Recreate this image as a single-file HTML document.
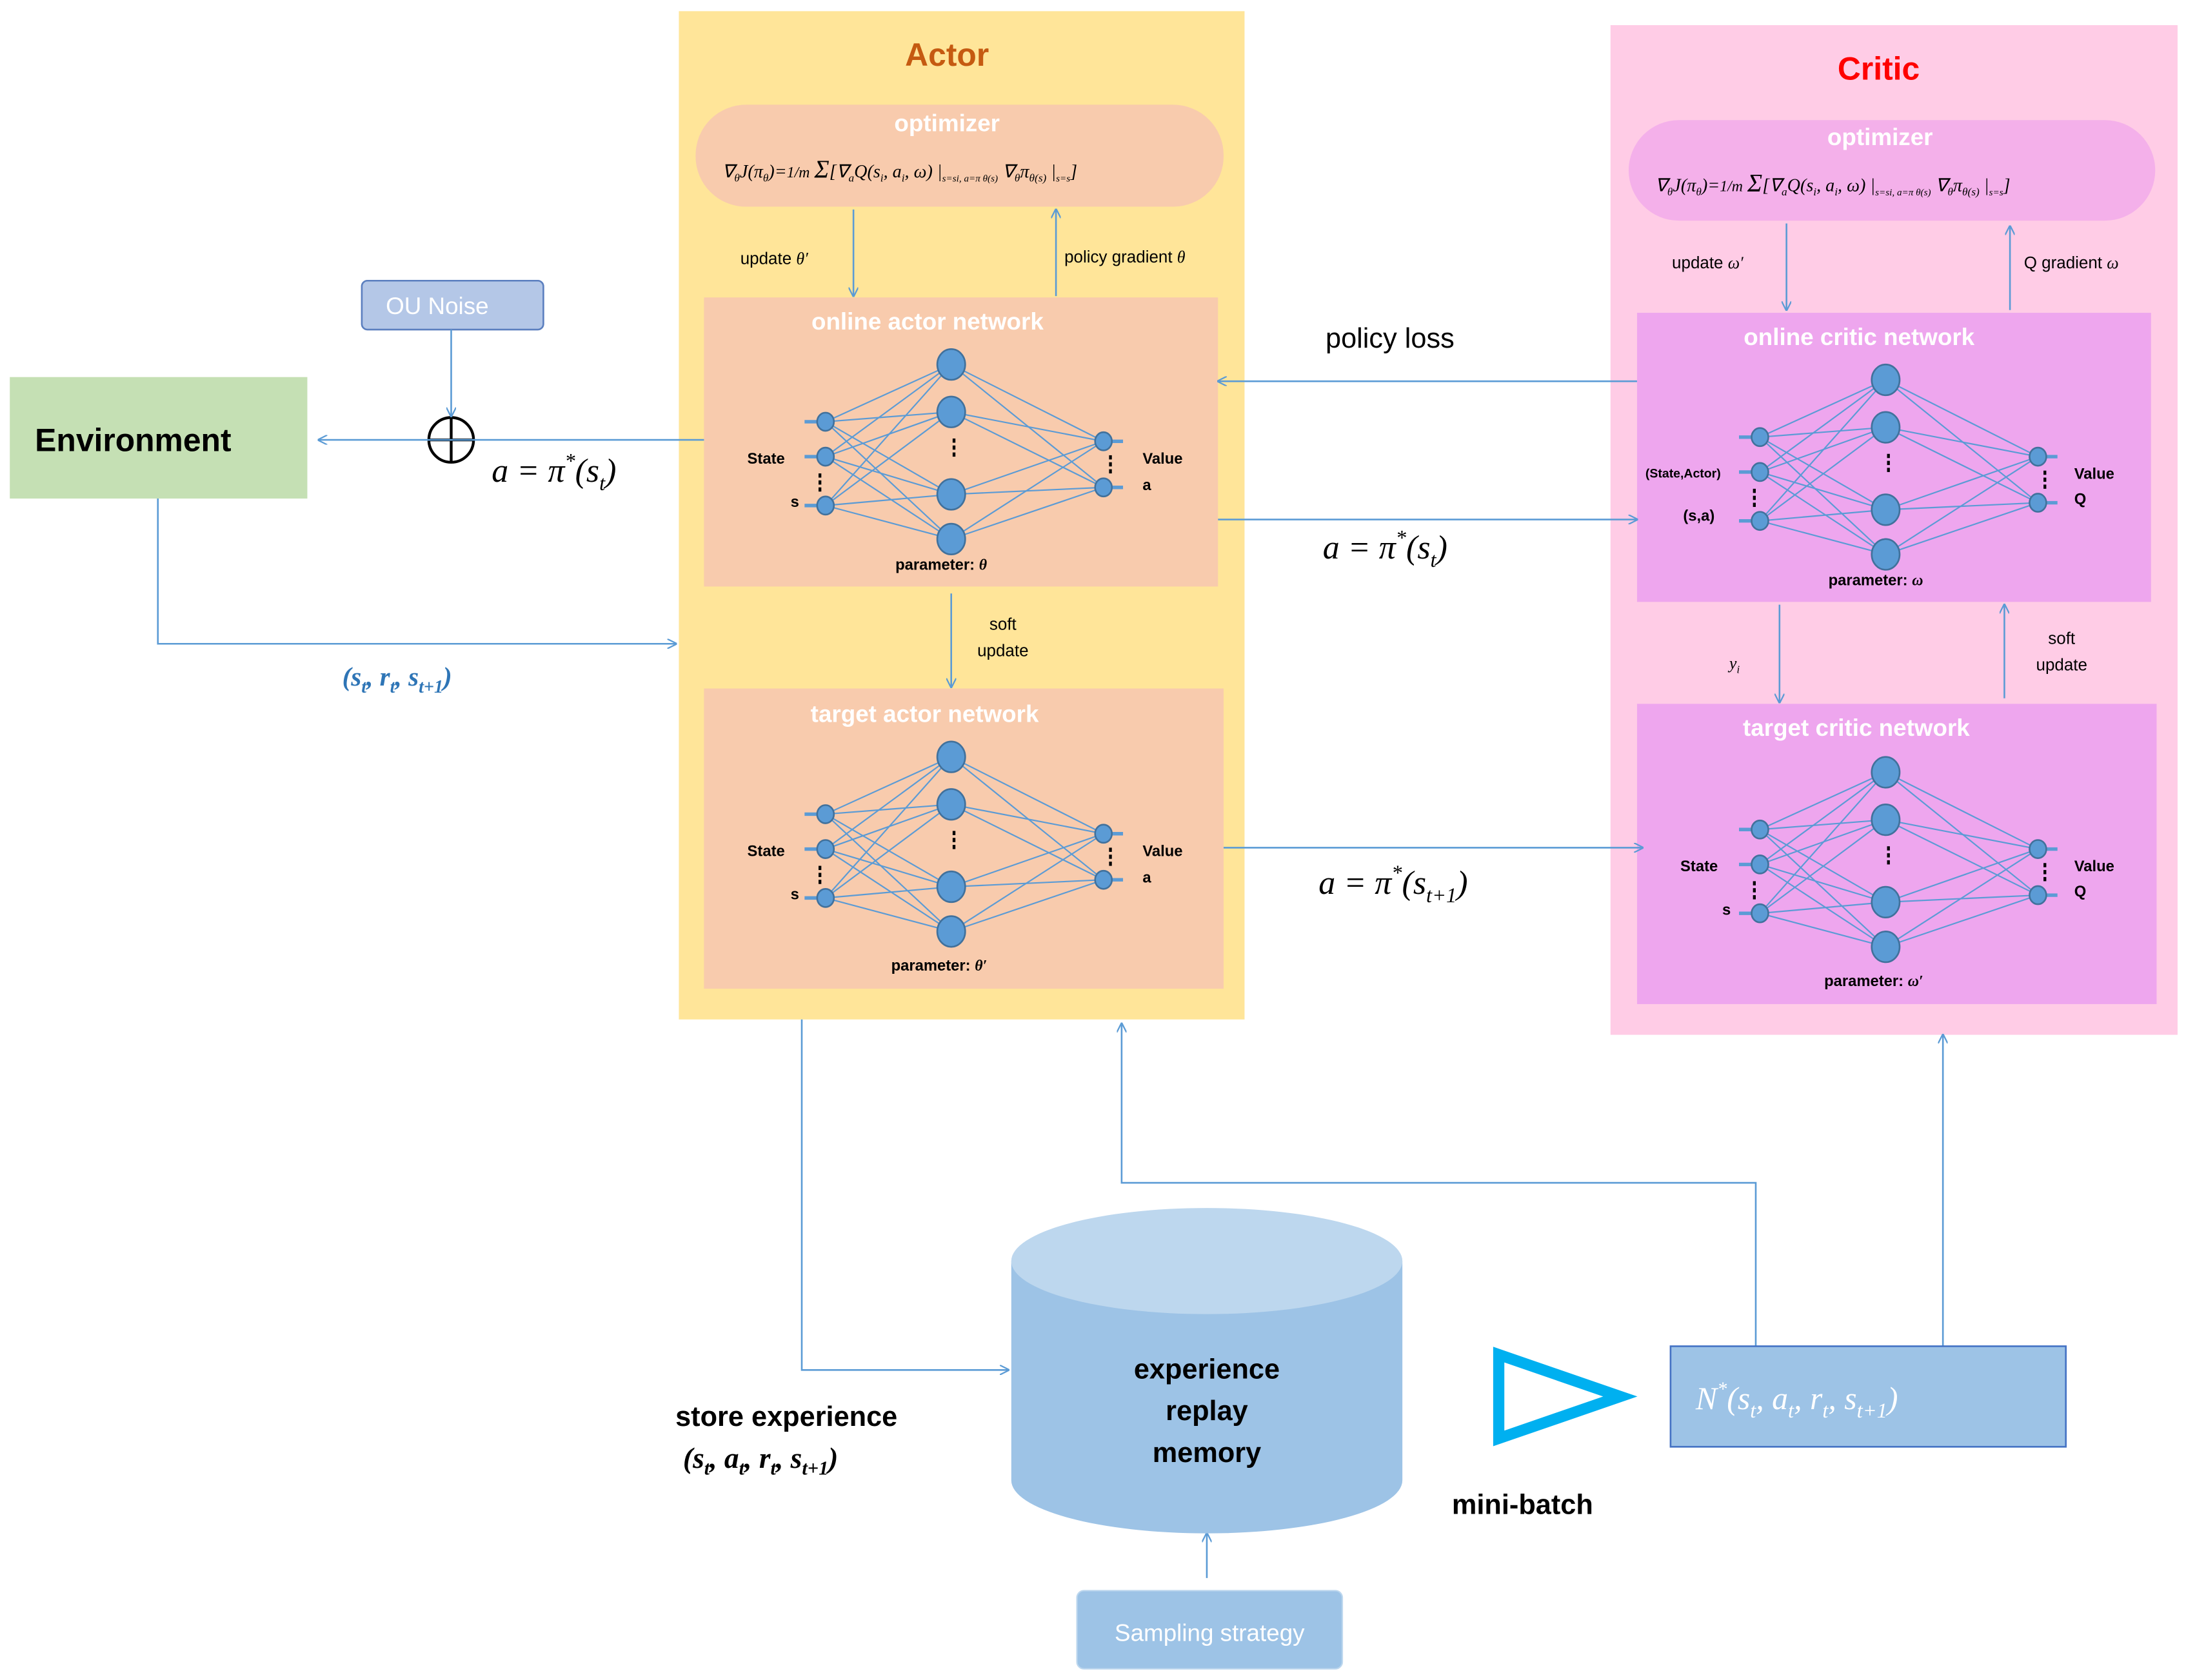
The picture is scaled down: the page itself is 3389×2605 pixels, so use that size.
<!DOCTYPE html>
<html><head><meta charset="utf-8"><style>
html,body{margin:0;padding:0;background:#fff}
svg{display:block}
text{font-family:"Liberation Sans",sans-serif}
.s{font-family:"Liberation Serif",serif;font-style:italic}
</style></head><body>
<svg width="3389" height="2605" viewBox="0 0 1565 1203" xmlns="http://www.w3.org/2000/svg">
<defs>
<marker id="ar" viewBox="0 0 10 10" refX="9" refY="5" markerWidth="7" markerHeight="7" orient="auto-start-reverse" markerUnits="userSpaceOnUse"><path d="M0,0 L10,5 L0,10" fill="none" stroke="#5B9BD5" stroke-width="1.5"/></marker>
<g id="net" stroke="#5B9BD5" stroke-width="1">
<g>
<line x1="87" y1="89" x2="177" y2="48"/><line x1="87" y1="89" x2="177" y2="82"/><line x1="87" y1="89" x2="177" y2="141"/><line x1="87" y1="89" x2="177" y2="173"/>
<line x1="87" y1="114" x2="177" y2="48"/><line x1="87" y1="114" x2="177" y2="82"/><line x1="87" y1="114" x2="177" y2="141"/><line x1="87" y1="114" x2="177" y2="173"/>
<line x1="87" y1="149" x2="177" y2="48"/><line x1="87" y1="149" x2="177" y2="82"/><line x1="87" y1="149" x2="177" y2="141"/><line x1="87" y1="149" x2="177" y2="173"/>
<line x1="177" y1="48" x2="286" y2="103"/><line x1="177" y1="48" x2="286" y2="136"/>
<line x1="177" y1="82" x2="286" y2="103"/><line x1="177" y1="82" x2="286" y2="136"/>
<line x1="177" y1="141" x2="286" y2="103"/><line x1="177" y1="141" x2="286" y2="136"/>
<line x1="177" y1="173" x2="286" y2="103"/><line x1="177" y1="173" x2="286" y2="136"/>
</g>
<g stroke-width="2.5"><line x1="72" y1="89" x2="87" y2="89"/><line x1="72" y1="114" x2="87" y2="114"/><line x1="72" y1="149" x2="87" y2="149"/><line x1="286" y1="103" x2="300" y2="103"/><line x1="286" y1="136" x2="300" y2="136"/></g>
<g fill="#5B9BD5" stroke="#41719C" stroke-width="1.2">
<ellipse cx="87" cy="89" rx="6" ry="6.5"/><ellipse cx="87" cy="114" rx="6" ry="6.5"/><ellipse cx="87" cy="149" rx="6" ry="6.5"/>
<ellipse cx="177" cy="48" rx="10" ry="11"/><ellipse cx="177" cy="82" rx="10" ry="11"/><ellipse cx="177" cy="141" rx="10" ry="11"/><ellipse cx="177" cy="173" rx="10" ry="11"/>
<ellipse cx="286" cy="103" rx="6" ry="6.5"/><ellipse cx="286" cy="136" rx="6" ry="6.5"/>
</g>
<g fill="#000" stroke="none"><rect x="178" y="101" width="2" height="3"/><rect x="178" y="106" width="2" height="3"/><rect x="178" y="111" width="2" height="3"/>
<rect x="82" y="126" width="2" height="3"/><rect x="82" y="131" width="2" height="3"/><rect x="82" y="136" width="2" height="3"/>
<rect x="290" y="113" width="2" height="3"/><rect x="290" y="118" width="2" height="3"/><rect x="290" y="123" width="2" height="3"/></g>
</g>
</defs>

<!-- Actor panel -->
<rect x="486" y="8" width="405" height="722" fill="#FFE599"/>
<text x="678" y="47" font-size="23" font-weight="bold" fill="#C55A11" text-anchor="middle">Actor</text>
<rect x="498" y="75" width="378" height="73" rx="36" fill="#F8CBAD"/>
<text x="678" y="94" font-size="17" font-weight="bold" fill="#fff" text-anchor="middle">optimizer</text>
<text x="517" y="127" font-size="13" class="s" fill="#000">∇<tspan font-size="8" dy="3">θ</tspan><tspan dy="-3">J(π</tspan><tspan font-size="8" dy="3">θ</tspan><tspan dy="-3">)=</tspan><tspan font-size="11">1/m</tspan> <tspan font-size="18">Σ</tspan>[∇<tspan font-size="8" dy="3">a</tspan><tspan dy="-3">Q(s</tspan><tspan font-size="8" dy="3">i</tspan><tspan dy="-3">, a</tspan><tspan font-size="8" dy="3">i</tspan><tspan dy="-3">, ω) |</tspan><tspan font-size="7" dy="3">s=s<tspan>i</tspan>, a=π θ(s)</tspan><tspan dy="-3">  ∇</tspan><tspan font-size="8" dy="3">θ</tspan><tspan dy="-3">π</tspan><tspan font-size="8" dy="3">θ(s)</tspan><tspan dy="-3"> |</tspan><tspan font-size="7" dy="3">s=s</tspan><tspan dy="-3">]</tspan></text>
<text x="530" y="189" font-size="12" fill="#000">update <tspan class="s">θ′</tspan></text>
<text x="762" y="188" font-size="12" fill="#000">policy gradient  <tspan class="s">θ</tspan></text>
<rect x="504" y="213" width="368" height="207" fill="#F8CBAD"/>
<text x="664" y="236" font-size="17" font-weight="bold" fill="#fff" text-anchor="middle">online actor network</text>
<use href="#net" x="504" y="213"/>
<text x="535" y="332" font-size="11" font-weight="bold">State</text>
<text x="566" y="363" font-size="11" font-weight="bold">s</text>
<text x="818" y="332" font-size="11" font-weight="bold">Value</text>
<text x="818" y="351" font-size="11" font-weight="bold">a</text>
<text x="641" y="408" font-size="11" font-weight="bold">parameter: <tspan class="s">θ</tspan></text>
<text x="718" y="451" font-size="12" text-anchor="middle">soft</text>
<text x="718" y="470" font-size="12" text-anchor="middle">update</text>
<rect x="504" y="493" width="372" height="215" fill="#F8CBAD"/>
<text x="662" y="517" font-size="17" font-weight="bold" fill="#fff" text-anchor="middle">target actor network</text>
<use href="#net" x="504" y="494"/>
<text x="535" y="613" font-size="11" font-weight="bold">State</text>
<text x="566" y="644" font-size="11" font-weight="bold">s</text>
<text x="818" y="613" font-size="11" font-weight="bold">Value</text>
<text x="818" y="632" font-size="11" font-weight="bold">a</text>
<text x="638" y="695" font-size="11" font-weight="bold">parameter: <tspan class="s">θ′</tspan></text>

<!-- Critic panel -->
<rect x="1153" y="18" width="406" height="723" fill="#FFCCE6"/>
<text x="1345" y="57" font-size="23" font-weight="bold" fill="#FF0000" text-anchor="middle">Critic</text>
<rect x="1166" y="86" width="377" height="72" rx="36" fill="#F4B0EA"/>
<text x="1346" y="104" font-size="17" font-weight="bold" fill="#fff" text-anchor="middle">optimizer</text>
<text x="1185" y="137" font-size="13" class="s" fill="#000">∇<tspan font-size="8" dy="3">θ</tspan><tspan dy="-3">J(π</tspan><tspan font-size="8" dy="3">θ</tspan><tspan dy="-3">)=</tspan><tspan font-size="11">1/m</tspan> <tspan font-size="18">Σ</tspan>[∇<tspan font-size="8" dy="3">a</tspan><tspan dy="-3">Q(s</tspan><tspan font-size="8" dy="3">i</tspan><tspan dy="-3">, a</tspan><tspan font-size="8" dy="3">i</tspan><tspan dy="-3">, ω) |</tspan><tspan font-size="7" dy="3">s=s<tspan>i</tspan>, a=π θ(s)</tspan><tspan dy="-3">  ∇</tspan><tspan font-size="8" dy="3">θ</tspan><tspan dy="-3">π</tspan><tspan font-size="8" dy="3">θ(s)</tspan><tspan dy="-3"> |</tspan><tspan font-size="7" dy="3">s=s</tspan><tspan dy="-3">]</tspan></text>
<text x="1197" y="192" font-size="12">update <tspan class="s">ω′</tspan></text>
<text x="1449" y="192" font-size="12">Q gradient <tspan class="s">ω</tspan></text>
<rect x="1172" y="224" width="368" height="207" fill="#EEA6EE"/>
<text x="1331" y="247" font-size="17" font-weight="bold" fill="#fff" text-anchor="middle">online critic network</text>
<use href="#net" x="1173" y="224"/>
<text x="1178" y="342" font-size="9" font-weight="bold">(State,Actor)</text>
<text x="1205" y="373" font-size="11" font-weight="bold">(s,a)</text>
<text x="1485" y="343" font-size="11" font-weight="bold">Value</text>
<text x="1485" y="361" font-size="11" font-weight="bold">Q</text>
<text x="1309" y="419" font-size="11" font-weight="bold">parameter: <tspan class="s">ω</tspan></text>
<text x="1238" y="479" font-size="12" class="s">y<tspan font-size="8" dy="3">i</tspan></text>
<text x="1476" y="461" font-size="12" text-anchor="middle">soft</text>
<text x="1476" y="480" font-size="12" text-anchor="middle">update</text>
<rect x="1172" y="504" width="372" height="215" fill="#EEA6EE"/>
<text x="1329" y="527" font-size="17" font-weight="bold" fill="#fff" text-anchor="middle">target critic network</text>
<use href="#net" x="1173" y="505"/>
<text x="1203" y="624" font-size="11" font-weight="bold">State</text>
<text x="1233" y="655" font-size="11" font-weight="bold">s</text>
<text x="1485" y="624" font-size="11" font-weight="bold">Value</text>
<text x="1485" y="642" font-size="11" font-weight="bold">Q</text>
<text x="1306" y="706" font-size="11" font-weight="bold">parameter: <tspan class="s">ω′</tspan></text>

<!-- Environment & noise -->
<rect x="7" y="270" width="213" height="87" fill="#C5E0B4"/>
<text x="25" y="323" font-size="23" font-weight="bold">Environment</text>
<rect x="259" y="201" width="130" height="35" rx="4" fill="#B4C7E7" stroke="#5B7FBF" stroke-width="1.2"/>
<text x="313" y="225" font-size="17" fill="#fff" text-anchor="middle">OU Noise</text>
<circle cx="323" cy="315" r="16" fill="none" stroke="#000" stroke-width="2"/>
<line x1="307" y1="315" x2="339" y2="315" stroke="#000" stroke-width="2"/>
<line x1="323" y1="299" x2="323" y2="331" stroke="#000" stroke-width="2"/>
<text x="352" y="345" font-size="24" class="s">a = π<tspan font-size="15" dy="-10">*</tspan><tspan dy="10">(s</tspan><tspan font-size="15" dy="6">t</tspan><tspan dy="-6">)</tspan></text>
<text x="245" y="491" font-size="19" class="s" font-weight="bold" fill="#2E75B6">(s<tspan font-size="13" dy="5">t</tspan><tspan dy="-5">, r</tspan><tspan font-size="13" dy="5">t</tspan><tspan dy="-5">, s</tspan><tspan font-size="13" dy="5">t+1</tspan><tspan dy="-5">)</tspan></text>

<text x="949" y="249" font-size="20">policy loss</text>
<text x="947" y="400" font-size="24" class="s">a = π<tspan font-size="15" dy="-10">*</tspan><tspan dy="10">(s</tspan><tspan font-size="15" dy="6">t</tspan><tspan dy="-6">)</tspan></text>
<text x="944" y="640" font-size="24" class="s">a = π<tspan font-size="15" dy="-10">*</tspan><tspan dy="10">(s</tspan><tspan font-size="15" dy="6">t+1</tspan><tspan dy="-6">)</tspan></text>

<!-- connectors -->
<g fill="none" stroke="#5B9BD5" stroke-width="1.2" marker-end="url(#ar)">
<path d="M504,315 H228"/>
<path d="M323,236 V298"/>
<path d="M113,357 V461 H484"/>
<path d="M1172,273 H872"/>
<path d="M872,372 H1172"/>
<path d="M876,607 H1176"/>
<path d="M611,150 V212"/>
<path d="M756,212 V150"/>
<path d="M681,425 V492"/>
<path d="M1279,160 V222"/>
<path d="M1439,222 V162"/>
<path d="M1274,433 V503"/>
<path d="M1435,500 V433"/>
<path d="M574,730 V981 H722"/>
<path d="M1257,964 V847 H803 V733"/>
<path d="M1391,964 V741"/>
<path d="M864,1130 V1098"/>
</g>

<!-- memory -->
<path d="M724,903 V1060 A140,38 0 0 0 1004,1060 V903 Z" fill="#9DC3E6"/>
<ellipse cx="864" cy="903" rx="140" ry="38" fill="#BDD7EE"/>
<text x="864" y="987" font-size="20" font-weight="bold" text-anchor="middle">experience</text>
<text x="864" y="1017" font-size="20" font-weight="bold" text-anchor="middle">replay</text>
<text x="864" y="1047" font-size="20" font-weight="bold" text-anchor="middle">memory</text>
<text x="563" y="1021" font-size="20" font-weight="bold" text-anchor="middle">store experience</text>
<text x="489" y="1051" font-size="21" class="s" font-weight="bold">(s<tspan font-size="14" dy="5">t</tspan><tspan dy="-5">, a</tspan><tspan font-size="14" dy="5">t</tspan><tspan dy="-5">, r</tspan><tspan font-size="14" dy="5">t</tspan><tspan dy="-5">, s</tspan><tspan font-size="14" dy="5">t+1</tspan><tspan dy="-5">)</tspan></text>
<rect x="771" y="1139" width="190" height="56" rx="5" fill="#9DC3E6" stroke="#BDD7EE"/>
<text x="866" y="1175" font-size="17" fill="#fff" text-anchor="middle">Sampling strategy</text>
<polygon points="1073,970 1160,1000 1073,1030" fill="none" stroke="#00B0F0" stroke-width="8"/>
<text x="1090" y="1084" font-size="20" font-weight="bold" text-anchor="middle">mini-batch</text>
<rect x="1196" y="964" width="283" height="72" fill="#9DC3E6" stroke="#4472C4" stroke-width="1.2"/>
<text x="1214" y="1009" font-size="23" class="s" fill="#fff">N<tspan font-size="14" dy="-10">*</tspan><tspan dy="10">(s</tspan><tspan font-size="15" dy="6">t</tspan><tspan dy="-6">, a</tspan><tspan font-size="15" dy="6">t</tspan><tspan dy="-6">, r</tspan><tspan font-size="15" dy="6">t</tspan><tspan dy="-6">, s</tspan><tspan font-size="15" dy="6">t+1</tspan><tspan dy="-6">)</tspan></text>
</svg>
</body></html>
